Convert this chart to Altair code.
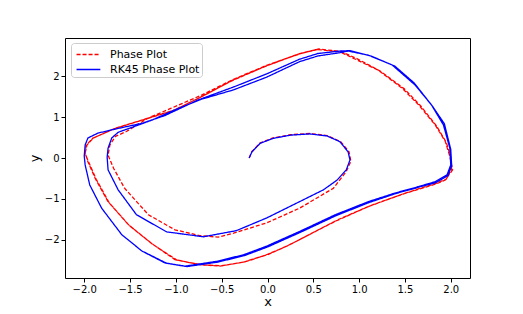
import altair as alt
import pandas as pd

# Phase Plot (red dashed)
red_x = [-0.20, -0.17, -0.08, 0.06, 0.25, 0.46, 0.65, 0.80, 0.89, 0.91, 0.86, 0.72, 0.35, -0.01, -0.37, -0.54, -0.74, -1.01, -1.30, -1.56, -1.68, -1.74, -1.72, -1.66, -1.54, -1.30, -1.05, -0.72, -0.37, -0.01, 0.35, 0.54,
         0.79, 0.96, 1.21, 1.47, 1.65, 1.83, 1.94, 1.99, 2.02, 1.94, 1.83, 1.47, 1.10, 0.74, 0.21, -0.01, -0.26, -0.52, -0.74, -1.01, -1.26, -1.52, -1.74, -1.88, -1.96, -1.99, -1.97, -1.90, -1.66, -1.30, -1.01, -0.72, -0.37, -0.01, 0.35, 0.56,
         0.80, 0.98, 1.23, 1.49, 1.67, 1.84, 1.95, 2.00, 2.01, 1.95, 1.84, 1.49, 1.12, 0.76, 0.23, 0.01, -0.24, -0.50, -0.72, -0.99, -1.25, -1.51, -1.73, -1.87, -1.95, -1.99, -1.98, -1.91, -1.68, -1.32, -1.03, -0.74, -0.39, -0.03, 0.33, 0.55]
red_y = [0.00, 0.16, 0.37, 0.49, 0.57, 0.60, 0.55, 0.40, 0.15, -0.08, -0.33, -0.74, -1.23, -1.59, -1.84, -1.94, -1.90, -1.76, -1.39, -0.74, -0.25, 0.07, 0.32, 0.53, 0.65, 0.98, 1.22, 1.54, 1.93, 2.27, 2.55, 2.66,
         2.60, 2.42, 2.15, 1.71, 1.30, 0.81, 0.41, 0.04, -0.29, -0.54, -0.64, -0.89, -1.19, -1.55, -2.16, -2.37, -2.55, -2.65, -2.61, -2.49, -2.10, -1.63, -1.07, -0.50, -0.09, 0.12, 0.32, 0.49, 0.73, 0.98, 1.18, 1.50, 1.92, 2.26, 2.56, 2.67,
         2.61, 2.43, 2.13, 1.70, 1.28, 0.80, 0.39, 0.02, -0.27, -0.52, -0.62, -0.87, -1.17, -1.52, -2.14, -2.36, -2.54, -2.64, -2.62, -2.50, -2.12, -1.65, -1.09, -0.52, -0.11, 0.10, 0.31, 0.48, 0.71, 0.96, 1.16, 1.48, 1.89, 2.24, 2.54, 2.66]

# RK45 Phase Plot (blue solid)
blue_x = [-0.20, -0.17, -0.08, 0.06, 0.25, 0.46, 0.65, 0.79, 0.88, 0.90, 0.86, 0.76, 0.61, 0.35, -0.01, -0.34, -0.70, -1.10, -1.43, -1.63, -1.74, -1.75, -1.74, -1.70, -1.63, -1.48, -1.26, -1.01, -0.72, -0.37, -0.01, 0.35, 0.55, 0.79,
          0.88, 1.10, 1.36, 1.61, 1.79, 1.92, 1.99, 2.00, 1.96, 1.83, 1.65, 1.39, 1.10, 0.74, 0.35, -0.01, -0.26, -0.55, -0.90, -1.12, -1.37, -1.59, -1.81, -1.94, -1.99, -2.00, -1.99, -1.96, -1.85, -1.66, -1.37, -1.12, -0.76, -0.37, -0.01, 0.35, 0.55, 0.79,
          0.90, 1.14, 1.39, 1.60, 1.80, 1.93, 2.00, 2.01, 1.97, 1.84, 1.66, 1.40, 1.11, 0.75, 0.36, 0.00, -0.25, -0.54, -0.88, -1.10, -1.35]
blue_y = [0.00, 0.15, 0.36, 0.48, 0.56, 0.59, 0.54, 0.40, 0.15, -0.05, -0.29, -0.54, -0.78, -1.07, -1.47, -1.78, -1.93, -1.81, -1.39, -0.78, -0.29, 0.02, 0.24, 0.49, 0.63, 0.75, 0.93, 1.18, 1.44, 1.67, 1.98, 2.36, 2.50, 2.58,
          2.62, 2.52, 2.28, 1.79, 1.30, 0.81, 0.24, -0.17, -0.41, -0.58, -0.70, -0.86, -1.07, -1.39, -1.80, -2.16, -2.37, -2.53, -2.65, -2.57, -2.28, -1.88, -1.23, -0.66, -0.17, 0.05, 0.32, 0.49, 0.61, 0.71, 0.85, 1.04, 1.42, 1.74, 2.06, 2.42, 2.56, 2.62,
          2.63, 2.49, 2.25, 1.84, 1.27, 0.84, 0.21, -0.19, -0.43, -0.60, -0.71, -0.87, -1.09, -1.41, -1.82, -2.18, -2.39, -2.55, -2.66, -2.58, -2.30]

rows = []
for i, (x, y) in enumerate(zip(red_x, red_y)):
    rows.append({"series": "Phase Plot", "x": x, "y": y, "i": i})
for i, (x, y) in enumerate(zip(blue_x, blue_y)):
    rows.append({"series": "RK45 Phase Plot", "x": x, "y": y, "i": i})
df = pd.DataFrame(rows)

series = ["Phase Plot", "RK45 Phase Plot"]

chart = alt.Chart(df).mark_line(strokeWidth=1.3).encode(
    x=alt.X("x:Q", scale=alt.Scale(domain=[-2.21, 2.21], nice=False, zero=False),
            axis=alt.Axis(values=[-2.0, -1.5, -1.0, -0.5, 0.0, 0.5, 1.0, 1.5, 2.0], format=".1f",
                          title="x", titlePadding=1)),
    y=alt.Y("y:Q", scale=alt.Scale(domain=[-2.94, 2.94], nice=False, zero=False),
            axis=alt.Axis(values=[-2, -1, 0, 1, 2], format="d", title="y", titlePadding=3)),
    color=alt.Color("series:N", scale=alt.Scale(domain=series, range=["#ff0000", "#0000ff"]),
                    legend=alt.Legend(title=None)),
    strokeDash=alt.StrokeDash("series:N", scale=alt.Scale(domain=series, range=[[4, 2], [1, 0]]),
                              legend=alt.Legend(title=None)),
    order=alt.Order("i:Q"),
    detail="series:N",
).properties(
    width=405, height=240,
    autosize=alt.AutoSizeParams(type="none"),
    padding={"left": 57, "top": 30, "right": 45, "bottom": 34},
).configure_view(
    stroke="black", strokeWidth=1
).configure_axis(
    grid=False, domain=False, tickColor="black", tickSize=4, labelPadding=2,
    labelFont="DejaVu Sans", labelFontSize=10, labelColor="black",
    titleFont="DejaVu Sans", titleFontSize=13, titleFontWeight="normal", titleColor="black",
).configure_legend(
    orient="none", legendX=6, legendY=5, symbolType="M-0.7,0L2.1,0", symbolSize=289,
    symbolStrokeWidth=1.5, labelFont="DejaVu Sans", labelFontSize=11, labelColor="black",
    padding=2, strokeColor="#cccccc", fillColor="white", cornerRadius=3, rowPadding=0,
    labelOffset=18,
)

chart.save("out.html", embed_options={"renderer": "svg", "actions": False})
